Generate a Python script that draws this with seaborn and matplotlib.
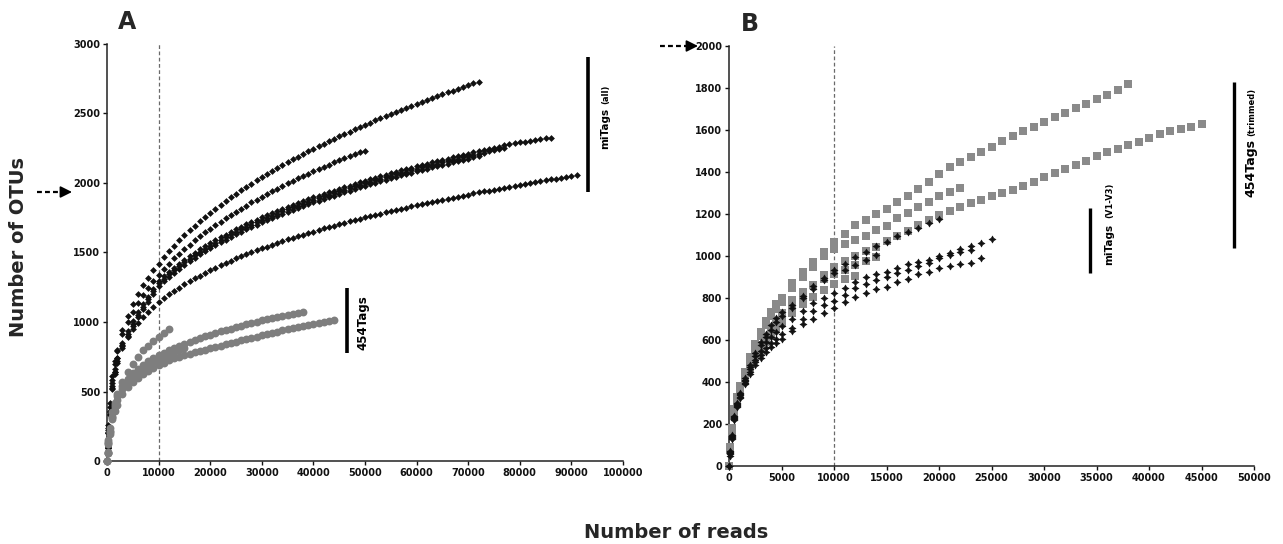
import matplotlib
matplotlib.use("Agg")
import matplotlib.pyplot as plt
import pandas as pd
import seaborn as sns

sns.set_style("ticks")
plt.rcParams["font.family"] = ["DejaVu Sans"]
plt.rcParams["font.weight"] = "bold"

# ---------------- Panel A data (reads sampled, OTUs observed) ----------------
READS_A = [0, 100, 250, 500, 1000, 1500,
           2000, 3000, 4000, 5000, 6000, 7000, 8000, 9000, 10000, 11000,
           12000, 13000, 14000, 15000, 16000, 17000, 18000, 19000, 20000, 21000,
           22000, 23000, 24000, 25000, 26000, 27000, 28000, 29000, 30000, 31000,
           32000, 33000, 34000, 35000, 36000, 37000, 38000, 39000, 40000, 41000,
           42000, 43000, 44000, 45000, 46000, 47000, 48000, 49000, 50000, 51000,
           52000, 53000, 54000, 55000, 56000, 57000, 58000, 59000, 60000, 61000,
           62000, 63000, 64000, 65000, 66000, 67000, 68000, 69000, 70000, 71000,
           72000, 73000, 74000, 75000, 76000, 77000, 78000, 79000, 80000, 81000,
           82000, 83000, 84000, 85000, 86000, 87000, 88000, 89000, 90000, 91000]

# miTags (all) - black
A_mi_1 = [0, 120, 260, 420, 610, 720,
          800, 940, 1045, 1130, 1200, 1263, 1320, 1372, 1420, 1465,
          1508, 1549, 1588, 1625, 1660, 1693, 1725, 1757, 1786, 1815,
          1843, 1870, 1897, 1923, 1948, 1972, 1996, 2019, 2043, 2065,
          2087, 2108, 2129, 2150, 2170, 2190, 2209, 2228, 2247, 2265,
          2283, 2301, 2319, 2336, 2353, 2370, 2387, 2403, 2419, 2435,
          2451, 2466, 2481, 2497, 2511, 2526, 2541, 2555, 2570, 2584,
          2598, 2611, 2625, 2638, 2652, 2665, 2678, 2691, 2704, 2717,
          2729]
A_mi_2 = [0, 110, 240, 390, 580, 700,
          790, 913, 1001, 1075, 1139, 1196, 1248, 1296, 1340, 1381,
          1420, 1457, 1492, 1525, 1556, 1587, 1616, 1644, 1671, 1697,
          1722, 1747, 1771, 1794, 1816, 1838, 1860, 1881, 1901, 1921,
          1941, 1960, 1979, 1997, 2015, 2033, 2050, 2067, 2084, 2100,
          2116, 2132, 2148, 2163, 2178, 2193, 2208, 2222, 2233]
A_mi_3 = [0, 100, 220, 360, 560, 660,
          740, 850, 935, 1005, 1070, 1128, 1182, 1240, 1295, 1329,
          1362, 1391, 1420, 1447, 1474, 1498, 1522, 1545, 1567, 1588,
          1609, 1629, 1648, 1666, 1684, 1702, 1719, 1736, 1752, 1768,
          1783, 1798, 1813, 1828, 1842, 1856, 1869, 1883, 1896, 1909,
          1922, 1934, 1946, 1958, 1970, 1982, 1994, 2005, 2016, 2027,
          2038, 2049, 2059, 2070, 2080, 2090, 2100, 2110, 2120, 2130,
          2139, 2148, 2157, 2167, 2176, 2185, 2194, 2203, 2211, 2220,
          2229, 2237, 2245, 2254, 2262, 2270, 2278, 2286, 2292, 2298,
          2305, 2310, 2316, 2321, 2326]
A_mi_4 = [0, 95, 210, 350, 542, 642,
          722, 832, 917, 987, 1052, 1110, 1164, 1222, 1277, 1311,
          1344, 1373, 1402, 1429, 1456, 1480, 1504, 1527, 1549, 1570,
          1591, 1611, 1630, 1648, 1666, 1684, 1701, 1718, 1734, 1750,
          1765, 1780, 1795, 1810, 1824, 1838, 1851, 1865, 1878, 1891,
          1904, 1916, 1928, 1940, 1952, 1964, 1976, 1987, 1998, 2009,
          2020, 2031, 2041, 2052, 2062, 2072, 2082, 2092, 2102, 2112,
          2121, 2130, 2139, 2149, 2158, 2167, 2176, 2185, 2193, 2202,
          2211, 2219, 2227, 2236, 2244, 2252]
A_mi_5 = [0, 90, 200, 340, 524, 624,
          704, 814, 899, 969, 1034, 1092, 1146, 1204, 1259, 1293,
          1326, 1355, 1384, 1411, 1438, 1462, 1486, 1509, 1531, 1552,
          1573, 1593, 1612, 1630, 1648, 1666, 1683, 1700, 1716, 1732,
          1747, 1762, 1777, 1792, 1806, 1820, 1833, 1847, 1860, 1873,
          1886, 1898, 1910, 1922, 1934, 1946, 1958, 1969, 1980, 1991,
          2002, 2013, 2023, 2034, 2044, 2054, 2064, 2074, 2084, 2094,
          2103, 2112, 2121, 2131, 2140, 2149, 2158, 2167, 2175, 2184,
          2193]
A_mi_6 = [0, 90, 200, 330, 520, 640,
          743, 828, 894, 948, 996, 1037, 1075, 1109, 1141, 1170,
          1198, 1223, 1248, 1271, 1293, 1314, 1334, 1354, 1373, 1391,
          1408, 1425, 1441, 1457, 1472, 1487, 1502, 1516, 1529, 1543,
          1556, 1569, 1581, 1594, 1606, 1618, 1629, 1640, 1651, 1662,
          1673, 1684, 1694, 1704, 1714, 1724, 1734, 1744, 1753, 1762,
          1771, 1780, 1789, 1798, 1807, 1815, 1823, 1832, 1840, 1848,
          1856, 1864, 1872, 1880, 1887, 1895, 1902, 1910, 1917, 1925,
          1932, 1939, 1946, 1953, 1960, 1967, 1973, 1980, 1987, 1994,
          2000, 2007, 2013, 2020, 2026, 2032, 2038, 2044, 2050, 2056]

# 454Tags - grey
A_454_1 = [0, 60, 130, 210, 320, 400,
           470, 540, 590, 630, 664, 692, 716, 738, 759, 778,
           796, 813, 829, 844, 858, 871, 885, 897, 909, 921,
           932, 943, 953, 964, 973, 983, 992, 1002, 1011, 1019,
           1028, 1036, 1044, 1052, 1060, 1067, 1072]
A_454_2 = [0, 55, 120, 195, 300, 360,
           400, 480, 530, 570, 600, 627, 650, 671, 690, 707,
           724, 739, 750, 762, 772, 782, 792, 802, 811, 820,
           830, 839, 848, 858, 867, 877, 886, 895, 904, 913,
           922, 931, 939, 947, 955, 962, 970, 978, 986, 994,
           1002, 1009, 1015]
A_454_3 = [0, 65, 150, 240, 350, 420,
           480, 570, 640, 700, 750, 795, 830, 862, 890, 918,
           948]
A_454_4 = [0, 60, 135, 215, 320, 390,
           440, 515, 565, 605, 638, 666, 690, 711, 730, 750,
           768, 785, 800, 812]

# ---------------- Panel B data ----------------
READS_B = [0, 100, 250, 500, 750, 1000, 1500, 2000, 2500, 3000, 3500, 4000, 4500,
           5000, 6000, 7000, 8000, 9000, 10000, 11000, 12000, 13000, 14000,
           15000, 16000, 17000, 18000, 19000, 20000, 21000, 22000, 23000, 24000,
           25000, 26000, 27000, 28000, 29000, 30000, 31000, 32000, 33000, 34000,
           35000, 36000, 37000, 38000, 39000, 40000, 41000, 42000, 43000, 44000,
           45000]

# 454Tags (trimmed) - grey squares
B_454_1 = [0, 90, 180, 270, 330, 380, 450, 520, 580, 640, 690, 735, 770,
           800, 870, 925, 972, 1020, 1067, 1107, 1150, 1170, 1200,
           1222, 1255, 1285, 1320, 1353, 1390, 1422, 1450, 1473, 1496,
           1521, 1546, 1570, 1593, 1615, 1638, 1660, 1682, 1704, 1725,
           1747, 1768, 1792, 1818]
B_454_2 = [0, 85, 175, 260, 320, 370, 440, 505, 565, 620, 670, 715, 750,
           780, 850, 900, 950, 1000, 1032, 1055, 1075, 1095, 1125,
           1145, 1180, 1205, 1235, 1258, 1285, 1305, 1322]
B_454_3 = [0, 80, 170, 250, 310, 355, 420, 480, 530, 575, 615, 650, 680,
           705, 760, 810, 860, 910, 950, 975, 1000, 1025, 1045,
           1070, 1095, 1120, 1146, 1170, 1194, 1215, 1235, 1252, 1268,
           1284, 1300, 1315, 1334, 1354, 1374, 1394, 1413, 1432, 1453,
           1475, 1494, 1511, 1527, 1542, 1562, 1580, 1596, 1606, 1615,
           1630]
B_454_4 = [0, 80, 165, 245, 305, 350, 415, 470, 520, 565, 610, 650, 690,
           730, 790, 830, 860, 890, 913, 935, 955, 975, 996]
B_454_5 = [0, 75, 160, 240, 300, 345, 410, 465, 510, 550, 590, 625, 655,
           680, 730, 770, 805, 840, 866, 890, 905]

# miTags (V1-V3) - black
B_mi_1 = [0, 70, 150, 240, 300, 350, 420, 480, 540, 590, 630, 670, 705,
          735, 765, 810, 855, 895, 932, 962, 995, 1020, 1048,
          1068, 1095, 1114, 1135, 1155, 1175]
B_mi_2 = [0, 65, 145, 235, 295, 345, 410, 470, 525, 575, 615, 650, 685,
          715, 752, 798, 845, 885, 918, 935, 958, 980, 1005]
B_mi_3 = [0, 60, 140, 230, 290, 340, 405, 460, 505, 550, 590, 615, 640,
          665, 700, 738, 778, 802, 825, 849, 878, 900, 913,
          925, 941, 960, 970, 980, 1000, 1016, 1032, 1048, 1063,
          1079]
B_mi_4 = [0, 55, 135, 225, 285, 330, 395, 450, 495, 530, 560, 585, 605,
          630, 659, 700, 738, 767, 786, 815, 848, 868, 885,
          900, 918, 935, 952, 968, 990, 1005, 1018, 1030]
B_mi_5 = [0, 50, 130, 220, 280, 325, 390, 440, 480, 515, 545, 565, 585,
          605, 643, 676, 700, 730, 754, 782, 805, 825, 841,
          852, 875, 892, 913, 925, 941, 952, 960, 968, 990]


def frame(reads, curves):
    rows = []
    for name, ys in curves.items():
        for x, y in zip(reads, ys):
            rows.append((x, y, name))
    return pd.DataFrame(rows, columns=["reads", "otus", "sample"])


dfA_mi = frame(READS_A, {"m1": A_mi_1, "m2": A_mi_2, "m3": A_mi_3,
                         "m4": A_mi_4, "m5": A_mi_5, "m6": A_mi_6})
dfA_454 = frame(READS_A, {"t1": A_454_1, "t2": A_454_2, "t3": A_454_3, "t4": A_454_4})
dfB_454 = frame(READS_B, {"t1": B_454_1, "t2": B_454_2, "t3": B_454_3,
                          "t4": B_454_4, "t5": B_454_5})
dfB_mi = frame(READS_B, {"m1": B_mi_1, "m2": B_mi_2, "m3": B_mi_3,
                         "m4": B_mi_4, "m5": B_mi_5})

W, H = 1283, 544
fig = plt.figure(figsize=(W / 100, H / 100), dpi=100)
axA = fig.add_axes([107 / W, 1 - 461 / H, 516 / W, 417 / H])
axB = fig.add_axes([729 / W, 1 - 466 / H, 525 / W, 420 / H])

BLACK = "#111111"
GREY = "#7e7e7e"

# reference dashed lines at 10000 reads
for ax in (axA, axB):
    ax.axvline(10000, color="#6a6a6a", lw=0.9, ls=(0, (3, 2)), zorder=1)

sns.scatterplot(data=dfA_mi, x="reads", y="otus", color=BLACK, marker="D", s=12,
                linewidth=0, ax=axA, legend=False, clip_on=False, zorder=3)
sns.scatterplot(data=dfA_454, x="reads", y="otus", color=GREY, marker="o", s=32,
                linewidth=0, ax=axA, legend=False, clip_on=False, zorder=4)
sns.scatterplot(data=dfB_454, x="reads", y="otus", color="#8a8a8a", marker="s", s=26,
                linewidth=0, ax=axB, legend=False, clip_on=False, zorder=3)
sns.scatterplot(data=dfB_mi, x="reads", y="otus", color=BLACK, marker=(4, 1, 0), s=26,
                linewidth=0.4, edgecolor=BLACK, ax=axB, legend=False, clip_on=False, zorder=4)

axA.set_xlim(0, 100000)
axA.set_ylim(0, 3000)
axA.set_xticks(range(0, 100001, 10000))
axA.set_yticks(range(0, 3001, 500))
axB.set_xlim(0, 50000)
axB.set_ylim(0, 2000)
axB.set_xticks(range(0, 50001, 5000))
axB.set_yticks(range(0, 2001, 200))

for ax in (axA, axB):
    sns.despine(ax=ax)
    ax.set_xlabel("")
    ax.set_ylabel("")
    for sp in ("left", "bottom"):
        ax.spines[sp].set_linewidth(1.1)
        ax.spines[sp].set_color("#222222")
    ax.tick_params(direction="out", length=3, width=1, pad=2, labelsize=7, colors="#111111")
    for lab in ax.get_xticklabels() + ax.get_yticklabels():
        lab.set_fontweight("bold")

# group bars and labels
axA.plot([93200, 93200], [1933, 2906], color="black", lw=2.6, clip_on=False, solid_capstyle="butt")
axA.plot([46460, 46460], [779, 1248], color="black", lw=2.6, clip_on=False, solid_capstyle="butt")
axB.plot([34380, 34380], [919, 1229], color="black", lw=2.4, clip_on=False, solid_capstyle="butt")
axB.plot([48100, 48100], [1038, 1829], color="black", lw=2.4, clip_on=False, solid_capstyle="butt")

tk = dict(rotation=90, rotation_mode="anchor", ha="left", va="baseline",
          fontweight="bold", color="black", clip_on=False)
axA.text(97100, 2243, "miTags", fontsize=7.5, **tk)
axA.text(97100, 2565, "(all)", fontsize=6, **tk)
axA.text(50200, 800, "454Tags", fontsize=8.5, **tk)
axB.text(36480, 957, "miTags", fontsize=7.5, **tk)
axB.text(36480, 1180, "(V1-V3)", fontsize=6, **tk)
axB.text(50000, 1281, "454Tags", fontsize=9, **tk)
axB.text(50000, 1570, "(trimmed)", fontsize=6, **tk)

# axis titles and panel letters
fig.text(676 / W, 1 - 532 / H, "Number of reads", ha="center", va="center",
         fontsize=14, fontweight="bold")
fig.text(19 / W, 1 - 247 / H, "Number of OTUs", ha="center", va="center",
         rotation=90, fontsize=14, fontweight="bold")
fig.text(127 / W, 1 - 22 / H, "A", ha="center", va="center", fontsize=17, fontweight="bold")
fig.text(750 / W, 1 - 24 / H, "B", ha="center", va="center", fontsize=17, fontweight="bold")

# dashed arrows pointing at 2000 OTUs
ov = fig.add_axes([0, 0, 1, 1])
ov.set_xlim(0, W)
ov.set_ylim(H, 0)
ov.axis("off")
ov.patch.set_alpha(0)
for (x0, x1, yy) in [(37, 72, 192), (660, 698, 46)]:
    ov.plot([x0, x1 - 9], [yy, yy], color="black", lw=1.6, ls=(0, (2.2, 1.4)))
    ov.annotate("", xy=(x1, yy), xytext=(x1 - 10, yy),
                arrowprops=dict(arrowstyle="-|>,head_length=0.7,head_width=0.35",
                                color="black", lw=1.2, shrinkA=0, shrinkB=0))

fig.savefig("out.png", dpi=100)
